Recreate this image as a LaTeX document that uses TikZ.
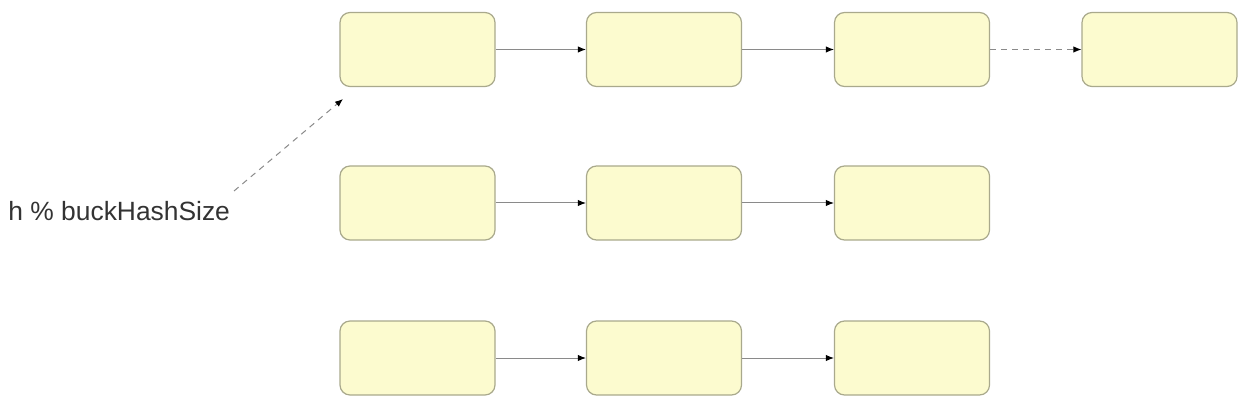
\documentclass[tikz,border=0pt]{standalone}
\usepackage{fontspec}
\setmainfont{Liberation Sans}
\usetikzlibrary{arrows.meta}
\definecolor{boxfill}{HTML}{FCFBCF}
\definecolor{boxline}{HTML}{A9A98C}
\definecolor{linkline}{HTML}{8A8A8A}
\definecolor{labeltext}{HTML}{333333}
\begin{document}
\begin{tikzpicture}[
		x=0.5pt, y=-0.5pt,
		bucket/.style={draw=boxline, line width=0.6pt, fill=boxfill, minimum width=77.5pt, minimum height=37pt, rounded corners=5pt, inner sep=0pt},
		conn/.style={-{Latex[length=4pt, width=3.2pt, color=black]}, draw=linkline, line width=0.5pt},
		dconn/.style={conn, dash pattern=on 3pt off 2.5pt},
		label/.style={font=\fontsize{13.2}{15}\selectfont, text=labeltext, inner sep=0pt}
		]
		\useasboundingbox (0,0) rectangle (1251,406);
		
		% first chain
		\node[bucket] (b11) at (417.5,49.5) {};
		\node[bucket] (b12) at (664,49.5) {};
		\node[bucket] (b13) at (912,49.5) {};
		\node[bucket] (b14) at (1159.5,49.5) {};
		\draw[conn] (b11) -- (b12);
		\draw[conn] (b12) -- (b13);
		\draw[dconn] (b13) -- (b14);
		
		% second chain
		\node[bucket] (b21) at (417.5,203) {};
		\node[bucket] (b22) at (664,203) {};
		\node[bucket] (b23) at (912,203) {};
		\draw[conn] (b21) -- (b22);
		\draw[conn] (b22) -- (b23);
		
		% third chain
		\node[bucket] (b31) at (417.5,358) {};
		\node[bucket] (b32) at (664,358) {};
		\node[bucket] (b33) at (912,358) {};
		\draw[conn] (b31) -- (b32);
		\draw[conn] (b32) -- (b33);
		
		% hash index
		\node[label, anchor=west] (hashidx) at (8,211) {h \% buckHashSize};
		\coordinate (hashfrom) at (234,191);
		\coordinate (hashtip) at (343,99);
		\draw[dconn] (hashfrom) -- (hashtip);
		
	\end{tikzpicture}
\end{document}
